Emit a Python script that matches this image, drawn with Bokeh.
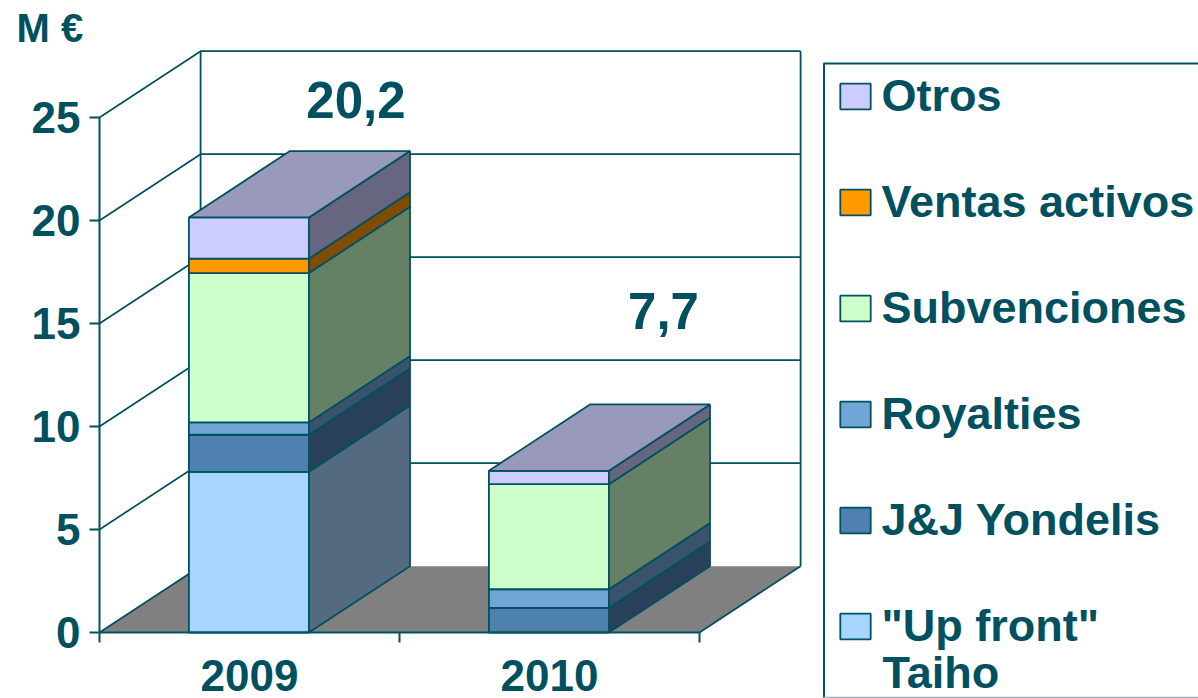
from bokeh.plotting import figure
from bokeh.models import Range1d, FixedTicker, Legend, LegendItem
from bokeh.core.properties import value
from bokeh.embed import file_html
from bokeh.resources import INLINE

years = ["2009", "2010"]
series = ['"Up front"', "J&J Yondelis", "Royalties", "Subvenciones", "Ventas activos", "Otros"]
up_front = [7.8, 0.0]
jj_yondelis = [1.8, 1.2]
royalties = [0.6, 0.9]
subvenciones = [7.25, 5.1]
ventas_activos = [0.7, 0.0]
otros = [2.0, 0.65]
totals = ["20,2", "7,7"]
y_ticks = [0, 5, 10, 15, 20, 25]

stack = [up_front, jj_yondelis, royalties, subvenciones, ventas_activos, otros]
front_colors = ["#A6D5FF", "#4F81B0", "#6FA6D6", "#CCFFCC", "#FF9900", "#CCCCFF"]
side_colors = ["#536A80", "#284059", "#38536B", "#668066", "#804D00", "#666680"]
top_color = "#9999BB"
INK = "#00505F"
FONT = "Liberation Sans"

# plot geometry: the frame fills the page; the axes sit inside it
W, H = 1198, 698
X0, Y0 = 99, 632         # page pixel of the data origin
SX, SY = 300, 20.6       # pixels per data unit
DX, DY = 0.337, 3.22     # depth of the 3-D box, in data units
BAR_L, BAR_W = 0.298, 0.4
Y_MAX = 25


def px(a):
    return (a - X0) / SX


def py(b):
    return (Y0 - b) / SY


p = figure(width=W, height=H, output_backend="svg", toolbar_location=None,
           x_range=Range1d(px(0), px(W)), y_range=Range1d(py(H), py(0)),
           min_border_left=0, min_border_right=0, min_border_top=0, min_border_bottom=0,
           outline_line_color=None, background_fill_color="white", border_fill_color="white")
p.grid.visible = False

# walls
p.multi_line([[DX, DX], [2 + DX, 2 + DX]], [[DY, Y_MAX + DY], [DY, Y_MAX + DY]], line_color=INK, line_width=1.8)
for t in y_ticks[1:]:
    p.line([0, DX, 2 + DX], [t, t + DY, t + DY], line_color=INK, line_width=1.7)

# floor
p.patch([0, DX, 2 + DX, 2], [0, DY, DY, 0], fill_color="#808080", line_color=None)
p.multi_line([[0, DX], [2, 2 + DX]], [[0, DY], [0, DY]], line_color=INK, line_width=1.8)

# bars
front_renderers = [None] * len(series)
for k in range(len(years)):
    x0 = k + BAR_L
    x1 = x0 + BAR_W
    base = 0.0
    for s, vals in enumerate(stack):
        v = vals[k]
        if v > 0:
            top = base + v
            r = p.patch([x0, x1, x1, x0], [base, base, top, top], fill_color=front_colors[s],
                        line_color=INK, line_width=1.8)
            if front_renderers[s] is None:
                front_renderers[s] = r
            p.patch([x1, x1 + DX, x1 + DX, x1], [base, base + DY, top + DY, top],
                    fill_color=side_colors[s], line_color=INK, line_width=1.8)
            base = top
    p.patch([x0, x1, x1 + DX, x0 + DX], [base, base, base + DY, base + DY],
            fill_color=top_color, line_color=INK, line_width=1.8)

# totals
p.text([0.855, 1.88], [25.85, 15.6], text=totals, text_font=value(FONT), text_font_style="bold",
       text_font_size="51px", text_color=INK, text_align="center", text_baseline="middle")

# axes, fixed at the origin inside the frame
yax = p.yaxis[0]
yax.fixed_location = 0
yax.ticker = FixedTicker(ticks=y_ticks)
yax.bounds = (0, Y_MAX)
xax = p.xaxis[0]
xax.fixed_location = 0
xax.ticker = FixedTicker(ticks=[0.5, 1.5], minor_ticks=[0, 1, 2])
xax.major_label_overrides = {0.5: years[0], 1.5: years[1]}
xax.bounds = (0, 2)
for ax in (xax, yax):
    ax.axis_line_color = INK
    ax.axis_line_width = 2
    ax.major_tick_line_color = INK
    ax.major_tick_line_width = 2
    ax.major_tick_in = 0
    ax.major_label_text_color = INK
    ax.major_label_text_font = FONT
    ax.major_label_text_font_style = "bold"
    ax.major_label_text_font_size = "44px"
yax.major_tick_out = 10
yax.major_label_standoff = 9
yax.minor_tick_line_color = None
xax.major_tick_out = 0
xax.major_label_standoff = 17
xax.minor_tick_in = 0
xax.minor_tick_out = 10
xax.minor_tick_line_color = INK
xax.minor_tick_line_width = 2

# unit label
p.text([px(16)], [py(27)], text=["M €"], text_font=value(FONT), text_font_style="bold",
       text_font_size="40px", text_color=INK, text_baseline="middle")

# legend frame, running off the right edge of the page
p.line([px(W + 5), px(823.5), px(823.5)], [py(63), py(63), py(697)], line_color=INK, line_width=2)
p.line([px(823.5), px(W + 5)], [py(697), py(697)], line_color="#9DB5BA", line_width=1.5)

# legend
items = [LegendItem(label=series[s], renderers=[front_renderers[s]]) for s in reversed(range(len(series)))]
legend = Legend(items=items, location=(835.5, 46), orientation="vertical",
                glyph_width=38, glyph_height=32, label_standoff=8, spacing=54, padding=0,
                margin=0, label_text_font=FONT, label_text_font_style="bold",
                label_text_font_size="45px", label_text_color=INK, border_line_color=None,
                background_fill_alpha=0.0)
p.add_layout(legend, "center")
p.text([px(882)], [py(672)], text=["Taiho"], text_font=value(FONT), text_font_style="bold",
       text_font_size="45px", text_color=INK, text_baseline="middle")

open("out.html", "w").write(file_html(p, INLINE))
